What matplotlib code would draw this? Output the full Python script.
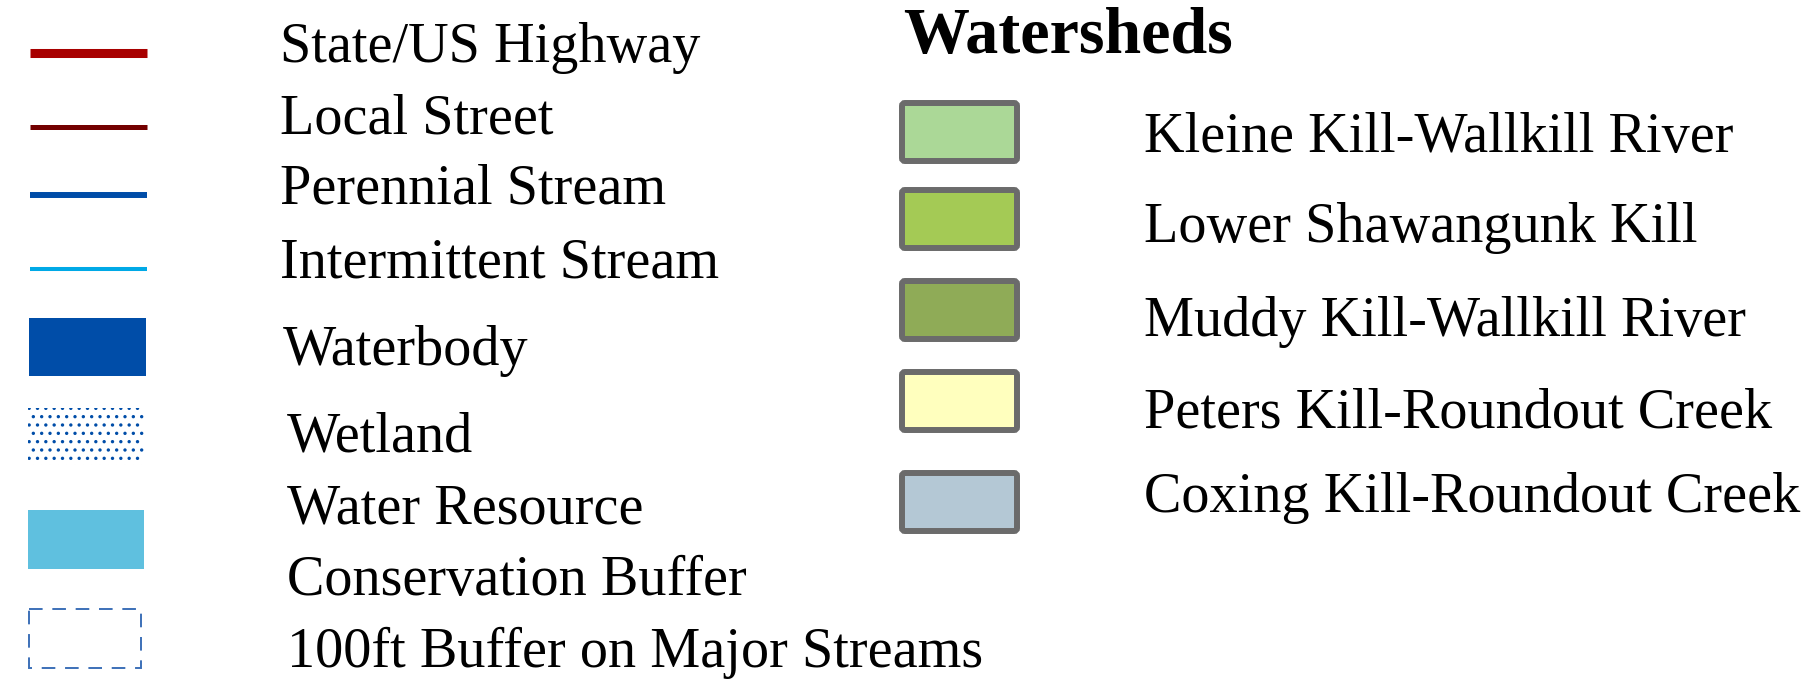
import matplotlib
matplotlib.use('Agg')
from matplotlib import pyplot as plt
from matplotlib.patches import Rectangle, FancyBboxPatch

# legend entries (left column)
line_labels = ['State/US Highway', 'Local Street', 'Perennial Stream', 'Intermittent Stream']
line_colors = ['#A80000', '#730000', '#004DA8', '#00A9E6']
area_labels = ['Waterbody', 'Wetland', 'Water Resource\nConservation Buffer', '100ft Buffer on Major Streams']

# watersheds (right column)
shed_title = 'Watersheds'
shed_labels = ['Kleine Kill-Wallkill River', 'Lower Shawangunk Kill', 'Muddy Kill-Wallkill River',
               'Peters Kill-Roundout Creek', 'Coxing Kill-Roundout Creek']
shed_colors = ['#ABD897', '#A4CA55', '#8FAB57', '#FFFFBE', '#B4C8D5']

plt.rcParams['font.family'] = ['Liberation Serif', 'DejaVu Serif']
plt.rcParams['hatch.linewidth'] = 1.2

W, H = 1813, 693
fig = plt.figure(figsize=(W / 100, H / 100), dpi=100)
ax = fig.add_axes([0, 0, 1, 1])
ax.set_xlim(0, W)
ax.set_ylim(H, 0)
ax.axis('off')

fs = 40.5

# lines
line_y = [53, 127, 195, 269]
line_w = [6.5, 3.6, 4.3, 2.9]
base_y = [62, 133, 203, 277]
for i, lab in enumerate(line_labels):
    ax.plot([30, 147], [line_y[i], line_y[i]], color=line_colors[i], lw=line_w[i], solid_capstyle='butt')
    ax.text(280, base_y[i], lab, fontsize=fs, va='baseline', ha='left')

# waterbody
ax.add_patch(Rectangle((29, 318), 117, 58, facecolor='#004DA8', edgecolor='none'))
ax.text(283, 365, area_labels[0], fontsize=fs, va='baseline', ha='left')

# wetland (dot texture)
ax.add_patch(Rectangle((28, 408), 116, 57, facecolor='none', edgecolor='#004DA8', hatch='..', lw=0))
ax.text(287, 452, area_labels[1], fontsize=fs, va='baseline', ha='left')

# water resource
ax.add_patch(Rectangle((28, 510), 116, 59, facecolor='#5FC0DF', edgecolor='none'))
l1, l2 = area_labels[2].split('\n')
ax.text(287, 523, l1, fontsize=fs, va='baseline', ha='left')
ax.text(287, 595, l2, fontsize=fs, va='baseline', ha='left')

# 100ft buffer
ax.add_patch(Rectangle((29, 609), 112, 59, facecolor='none', edgecolor='#3C70B8',
                       lw=1.4, linestyle=(0, (7, 5))))
ax.text(287, 667, area_labels[3], fontsize=fs, va='baseline', ha='left')

# watersheds
ax.text(903, 53, shed_title, fontsize=47.5, fontweight='bold', va='baseline', ha='left')
box_y = [100, 187, 278, 369, 470]
lab_y = [152, 242, 336, 428, 512]
for i, lab in enumerate(shed_labels):
    ax.add_patch(FancyBboxPatch((902, box_y[i] + 3), 115, 58, boxstyle='round,pad=0,rounding_size=3',
                                facecolor=shed_colors[i], edgecolor='#6B6B6B', lw=4.3))
    ax.text(1144, lab_y[i], lab, fontsize=fs, va='baseline', ha='left')

fig.savefig('out.png', dpi=100, facecolor='white')
